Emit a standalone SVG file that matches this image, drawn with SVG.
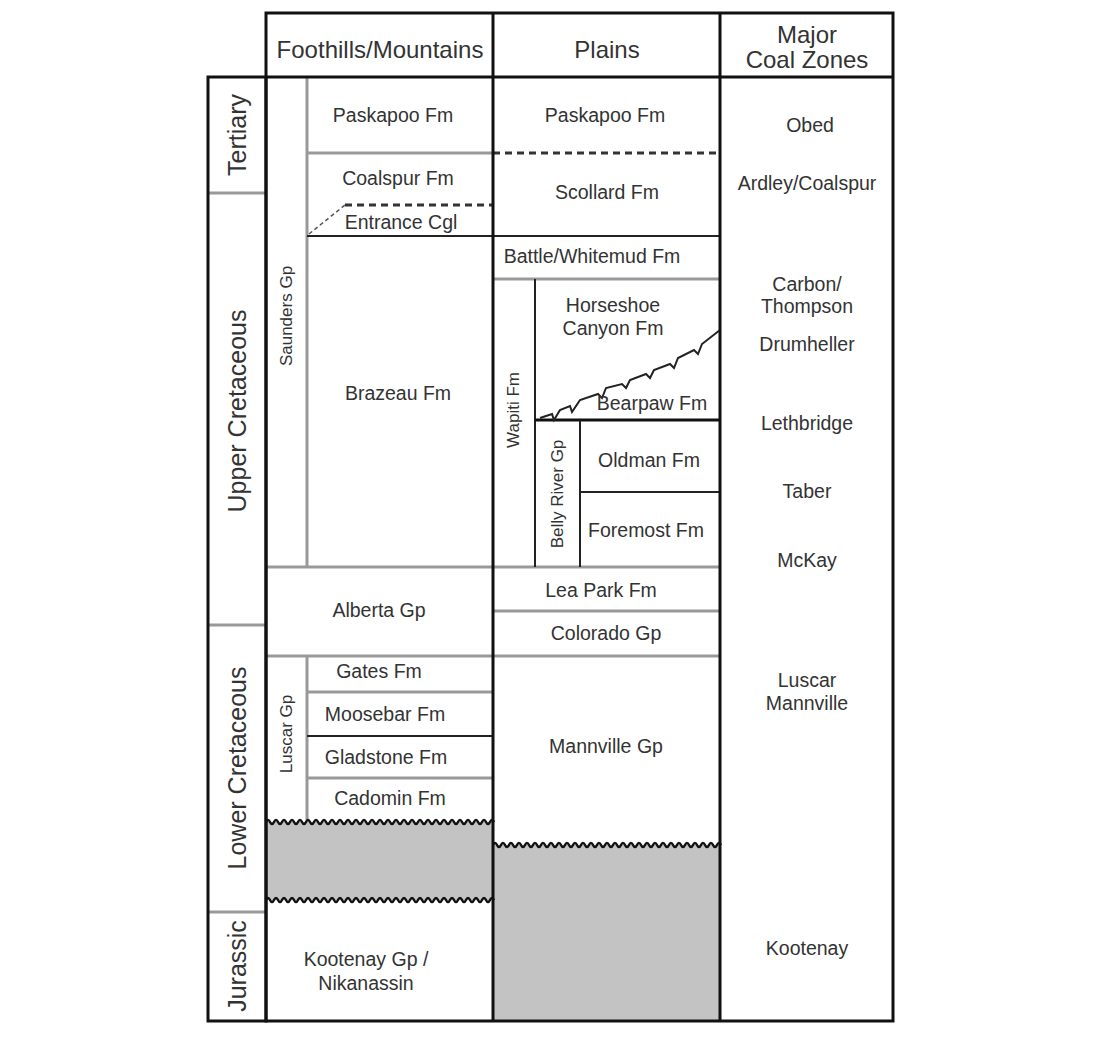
<svg xmlns="http://www.w3.org/2000/svg" width="1100" height="1040" viewBox="0 0 1100 1040">
<style>
text{font-family:"Liberation Sans",Arial,sans-serif;font-size:19.5px;fill:#333;text-anchor:middle}
.h{font-size:24px}
.a{font-size:25px}
.r{font-size:17px}
.k{stroke:#111;stroke-width:3;fill:none}
.g{stroke:#999;stroke-width:3;fill:none}
.t{stroke:#222;stroke-width:2;fill:none}
.d{stroke:#333;stroke-width:3;stroke-dasharray:7,5;fill:none}
.w{stroke:#111;stroke-width:2.5;fill:none}
</style>
<rect width="1100" height="1040" fill="#fff"/>
<g id="fills" fill="#c3c3c3">
<rect x="266" y="822" width="227" height="78"/>
<rect x="493" y="845" width="227" height="176"/>
</g>
<g id="lines">
<line class="g" x1="208" y1="193" x2="266" y2="193"/>
<line class="g" x1="208" y1="625" x2="266" y2="625"/>
<line class="g" x1="208" y1="912" x2="266" y2="912"/>
<line class="g" x1="307" y1="77" x2="307" y2="567"/>
<line class="g" x1="307" y1="153" x2="493" y2="153"/>
<line class="t" x1="307" y1="236" x2="720" y2="236"/>
<line class="g" x1="307" y1="656" x2="307" y2="820"/>
<line class="g" x1="307" y1="692" x2="493" y2="692"/>
<line class="t" x1="307" y1="736" x2="493" y2="736"/>
<line class="g" x1="307" y1="778" x2="493" y2="778"/>
<line class="g" x1="266" y1="567" x2="720" y2="567"/>
<line class="g" x1="266" y1="656" x2="720" y2="656"/>
<line class="g" x1="493" y1="279" x2="720" y2="279"/>
<line class="t" x1="535" y1="279" x2="535" y2="567"/>
<line class="k" x1="535" y1="420" x2="720" y2="420"/>
<line class="t" x1="580" y1="420" x2="580" y2="567"/>
<line class="t" x1="580" y1="492" x2="720" y2="492"/>
<line class="g" x1="493" y1="611" x2="720" y2="611"/>
<line class="d" x1="493" y1="153" x2="720" y2="153"/>
<line class="d" x1="345" y1="205" x2="493" y2="205"/>
<line stroke="#555" stroke-width="1.5" stroke-dasharray="4,3" x1="309" y1="234" x2="345" y2="205"/>
<polyline class="t" stroke-width="1.5" points="540,418 552,414 554,420 560,410 570,406 572,412 580,400 598,394 602,398 606,388 622,384 626,388 630,380 646,374 650,378 654,370 670,364 674,368 678,358 694,350 698,354 702,344 720,330"/>
<path class="w" d="M266,822 q2,-4 4,0 t4,0 t4,0 t4,0 t4,0 t4,0 t4,0 t4,0 t4,0 t4,0 t4,0 t4,0 t4,0 t4,0 t4,0 t4,0 t4,0 t4,0 t4,0 t4,0 t4,0 t4,0 t4,0 t4,0 t4,0 t4,0 t4,0 t4,0 t4,0 t4,0 t4,0 t4,0 t4,0 t4,0 t4,0 t4,0 t4,0 t4,0 t4,0 t4,0 t4,0 t4,0 t4,0 t4,0 t4,0 t4,0 t4,0 t4,0 t4,0 t4,0 t4,0 t4,0 t4,0 t4,0 t4,0 t4,0 t4,0"/>
<path class="w" d="M266,900 q2,-4 4,0 t4,0 t4,0 t4,0 t4,0 t4,0 t4,0 t4,0 t4,0 t4,0 t4,0 t4,0 t4,0 t4,0 t4,0 t4,0 t4,0 t4,0 t4,0 t4,0 t4,0 t4,0 t4,0 t4,0 t4,0 t4,0 t4,0 t4,0 t4,0 t4,0 t4,0 t4,0 t4,0 t4,0 t4,0 t4,0 t4,0 t4,0 t4,0 t4,0 t4,0 t4,0 t4,0 t4,0 t4,0 t4,0 t4,0 t4,0 t4,0 t4,0 t4,0 t4,0 t4,0 t4,0 t4,0 t4,0 t4,0"/>
<path class="w" d="M493,845 q2,-4 4,0 t4,0 t4,0 t4,0 t4,0 t4,0 t4,0 t4,0 t4,0 t4,0 t4,0 t4,0 t4,0 t4,0 t4,0 t4,0 t4,0 t4,0 t4,0 t4,0 t4,0 t4,0 t4,0 t4,0 t4,0 t4,0 t4,0 t4,0 t4,0 t4,0 t4,0 t4,0 t4,0 t4,0 t4,0 t4,0 t4,0 t4,0 t4,0 t4,0 t4,0 t4,0 t4,0 t4,0 t4,0 t4,0 t4,0 t4,0 t4,0 t4,0 t4,0 t4,0 t4,0 t4,0 t4,0 t4,0 t4,0"/>
<rect class="k" x="208" y="77" width="58" height="944"/>
<rect class="k" x="266" y="13" width="627" height="1008"/>
<line class="k" x1="266" y1="77" x2="893" y2="77"/>
<line class="k" x1="493" y1="13" x2="493" y2="1021"/>
<line class="k" x1="720" y1="13" x2="720" y2="1021"/>
</g>
<g id="labels">
<text class="h" x="380" y="58">Foothills/Mountains</text>
<text class="h" x="607" y="58">Plains</text>
<text class="h" x="807" y="43">Major</text>
<text class="h" x="807" y="68">Coal Zones</text>
<text class="a" transform="translate(246,135) rotate(-90)">Tertiary</text>
<text class="a" transform="translate(246,411) rotate(-90)">Upper Cretaceous</text>
<text class="a" transform="translate(246,768) rotate(-90)">Lower Cretaceous</text>
<text class="a" transform="translate(246,966) rotate(-90)">Jurassic</text>
<text class="r" transform="translate(292,316) rotate(-90)">Saunders Gp</text>
<text class="r" transform="translate(292,734) rotate(-90)">Luscar Gp</text>
<text class="r" transform="translate(519,410) rotate(-90)">Wapiti Fm</text>
<text class="r" transform="translate(563,494) rotate(-90)">Belly River Gp</text>
<text x="393" y="122">Paskapoo Fm</text>
<text x="398" y="185">Coalspur Fm</text>
<text x="401" y="229">Entrance Cgl</text>
<text x="398" y="400">Brazeau Fm</text>
<text x="379" y="617">Alberta Gp</text>
<text x="379" y="678">Gates Fm</text>
<text x="385" y="721">Moosebar Fm</text>
<text x="386" y="764">Gladstone Fm</text>
<text x="390" y="805">Cadomin Fm</text>
<text x="366" y="966">Kootenay Gp /</text>
<text x="366" y="990">Nikanassin</text>
<text x="605" y="122">Paskapoo Fm</text>
<text x="607" y="199">Scollard Fm</text>
<text x="592" y="263">Battle/Whitemud Fm</text>
<text x="613" y="312">Horseshoe</text>
<text x="613" y="335">Canyon Fm</text>
<text x="652" y="410">Bearpaw Fm</text>
<text x="649" y="467">Oldman Fm</text>
<text x="646" y="537">Foremost Fm</text>
<text x="601" y="597">Lea Park Fm</text>
<text x="606" y="640">Colorado Gp</text>
<text x="606" y="753">Mannville Gp</text>
<text x="810" y="132">Obed</text>
<text x="807" y="190">Ardley/Coalspur</text>
<text x="807" y="291">Carbon/</text>
<text x="807" y="313">Thompson</text>
<text x="807" y="351">Drumheller</text>
<text x="807" y="430">Lethbridge</text>
<text x="807" y="498">Taber</text>
<text x="807" y="567">McKay</text>
<text x="807" y="687">Luscar</text>
<text x="807" y="710">Mannville</text>
<text x="807" y="955">Kootenay</text>
</g>
</svg>
